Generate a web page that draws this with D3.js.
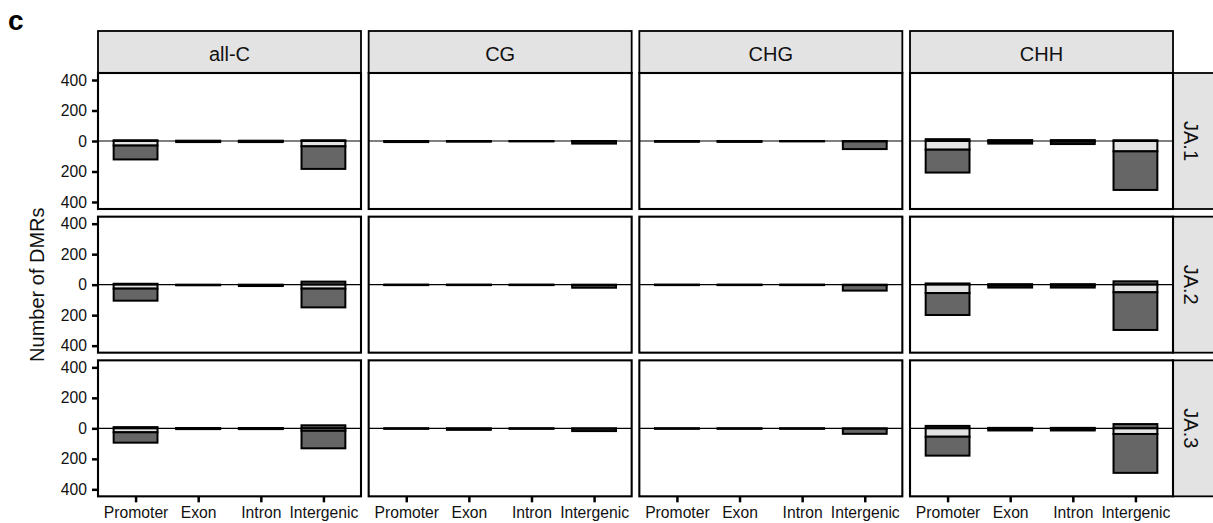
<!DOCTYPE html>
<html>
<head>
<meta charset="utf-8">
<script src="https://cdn.jsdelivr.net/npm/d3@7"></script>
<style>
  html, body { margin: 0; padding: 0; background: #fff; }
  svg { display: block; font-family: "Liberation Sans", Arial, sans-serif; }
</style>
</head>
<body>
<svg id="chart" width="1213" height="523"></svg>
<script>
// Facets and categories
const regions  = ["Promoter", "Exon", "Intron", "Intergenic"];
const contexts = ["all-C", "CG", "CHG", "CHH"];
const samples  = ["JA.1", "JA.2", "JA.3"];
const yTicks   = [-400, -200, 0, 200, 400];

// DMR counts per sample -> context -> region (Promoter, Exon, Intron, Intergenic)
// segment drawn above zero
const aboveCounts = [
  [[5, 2, 2, 5],  [0, 0, 0, 0], [0, 0, 0, 0], [12, 6, 6, 5]],
  [[6, 0, 0, 20], [0, 0, 0, 0], [0, 0, 0, 0], [8, 3, 3, 22]],
  [[8, 2, 2, 20], [0, 0, 0, 0], [0, 0, 0, 0], [16, 3, 3, 28]]
];
// light segment just below zero
const lightCounts = [
  [[30, 3, 3, 35], [2, 2, 1, 3], [2, 2, 1, 3], [57, 5, 5, 68]],
  [[26, 2, 3, 26], [1, 1, 1, 3], [1, 1, 1, 3], [55, 5, 5, 50]],
  [[26, 2, 2, 16], [1, 2, 1, 3], [1, 1, 1, 3], [55, 4, 4, 37]]
];
// dark segment below the light one
const darkCounts = [
  [[91, 4, 4, 148], [5, 2, 1, 14], [3, 4, 1, 50], [150, 12, 15, 253]],
  [[79, 2, 6, 123], [2, 2, 2, 17], [2, 2, 2, 36], [144, 14, 14, 247]],
  [[68, 3, 3, 115], [2, 8, 2, 15], [2, 2, 2, 33], [124, 10, 10, 255]]
];

const svg = d3.select("#chart");

// Layout of the facet grid
const panelW = 263, panelH = 136;
const gapX = 7.67, gapY = 7.67;
const left0 = 98, top0 = 73;
const stripH = 42, stripW = 42;
const colX = contexts.map((_, i) => left0 + i * (panelW + gapX));
const rowY = samples.map((_, i) => top0 + i * (panelH + gapY));

const x = d3.scalePoint().domain(regions).range([0, panelW]).padding(0.6);
const barW = x.step() * 0.7;
const y = d3.scaleLinear().domain([-446, 446]).range([panelH, 0]);

const lightFill = "#e3e3e3", darkFill = "#666666", stripFill = "#e3e3e3";
const textCol = "#111";
const barStroke = 2;

// Panel label
svg.append("text").attr("x", 8).attr("y", 30)
  .attr("font-size", 28).attr("font-weight", "bold").attr("fill", "#000")
  .text("c");

// Y axis title
svg.append("text")
  .attr("transform", `translate(44,${top0 + (3 * panelH + 2 * gapY) / 2}) rotate(-90)`)
  .attr("text-anchor", "middle").attr("font-size", 20).attr("fill", textCol)
  .text("Number of DMRs");

// Column strips
contexts.forEach((c, ci) => {
  const g = svg.append("g").attr("transform", `translate(${colX[ci]},${top0 - stripH})`);
  g.append("rect").attr("width", panelW).attr("height", stripH)
    .attr("fill", stripFill).attr("stroke", "#000").attr("stroke-width", 1.8);
  g.append("text").attr("x", panelW / 2).attr("y", 29.7)
    .attr("text-anchor", "middle").attr("font-size", 20).attr("fill", textCol)
    .text(c);
});

// Row strips
samples.forEach((s, si) => {
  const sx = colX[3] + panelW;
  const g = svg.append("g").attr("transform", `translate(${sx},${rowY[si]})`);
  g.append("rect").attr("width", stripW).attr("height", panelH)
    .attr("fill", stripFill).attr("stroke", "#000").attr("stroke-width", 1.8);
  g.append("text")
    .attr("transform", `translate(11,${panelH / 2}) rotate(90)`)
    .attr("text-anchor", "middle").attr("font-size", 20).attr("fill", textCol)
    .text(s);
});

// Panels
samples.forEach((s, si) => {
  contexts.forEach((c, ci) => {
    const g = svg.append("g").attr("transform", `translate(${colX[ci]},${rowY[si]})`);
    g.append("rect").attr("width", panelW).attr("height", panelH).attr("fill", "#fff");

    // zero reference line
    g.append("line").attr("x1", 0).attr("x2", panelW)
      .attr("y1", y(0)).attr("y2", y(0))
      .attr("stroke", "#000").attr("stroke-width", 1.2);

    const rows = regions.map((r, ri) => ({
      region: r,
      above: aboveCounts[si][ci][ri],
      light: lightCounts[si][ci][ri],
      dark: darkCounts[si][ci][ri]
    }));

    const bars = g.selectAll("g.bar").data(rows).join("g").attr("class", "bar");
    // upper segment
    bars.filter(d => d.above > 0).append("rect")
      .attr("x", d => x(d.region) - barW / 2).attr("width", barW)
      .attr("y", d => y(d.above)).attr("height", d => y(0) - y(d.above))
      .attr("fill", darkFill).attr("stroke", "#000").attr("stroke-width", barStroke);
    // light segment
    bars.append("rect")
      .attr("x", d => x(d.region) - barW / 2).attr("width", barW)
      .attr("y", y(0)).attr("height", d => y(-d.light) - y(0))
      .attr("fill", lightFill).attr("stroke", "#000").attr("stroke-width", barStroke);
    // dark segment
    bars.append("rect")
      .attr("x", d => x(d.region) - barW / 2).attr("width", barW)
      .attr("y", d => y(-d.light)).attr("height", d => y(-(d.light + d.dark)) - y(-d.light))
      .attr("fill", darkFill).attr("stroke", "#000").attr("stroke-width", barStroke);

    // panel border
    g.append("rect").attr("width", panelW).attr("height", panelH)
      .attr("fill", "none").attr("stroke", "#000").attr("stroke-width", 2.1);

    // y axis on first column
    if (ci === 0) {
      const ax = g.append("g")
        .call(d3.axisLeft(y).tickValues(yTicks).tickFormat(d => Math.abs(d))
          .tickSize(6).tickPadding(5));
      ax.select(".domain").remove();
      ax.selectAll("line").attr("stroke", "#000").attr("stroke-width", 2.5);
      ax.selectAll("text").attr("font-size", 15.7).attr("fill", textCol)
        .attr("font-family", "Liberation Sans, Arial, sans-serif");
    }
    // x axis on bottom row
    if (si === samples.length - 1) {
      const ax = g.append("g").attr("transform", `translate(0,${panelH})`)
        .call(d3.axisBottom(x).tickSize(6).tickPadding(5));
      ax.select(".domain").remove();
      ax.selectAll("line").attr("stroke", "#000").attr("stroke-width", 2.5);
      ax.selectAll("text").attr("font-size", 15.7).attr("fill", textCol)
        .attr("font-family", "Liberation Sans, Arial, sans-serif");
    }
  });
});
</script>
</body>
</html>
